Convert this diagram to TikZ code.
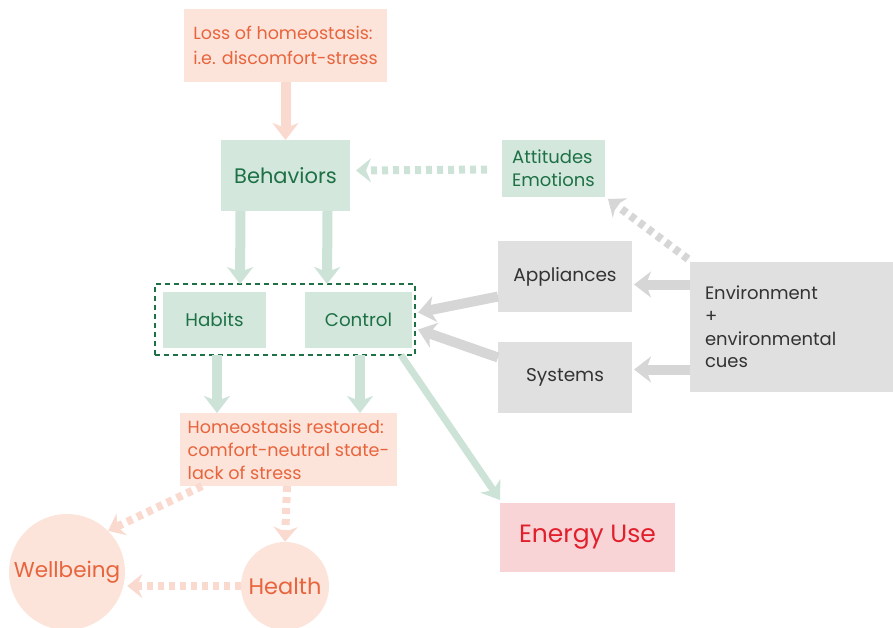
\documentclass[tikz,border=0pt]{standalone}
\usepackage{fontspec}
\setmainfont{Poppins}
\usetikzlibrary{arrows.meta,calc}
\definecolor{pinkfill}{HTML}{FCE4DB}
\definecolor{orangetext}{HTML}{E8643C}
\definecolor{greenfill}{HTML}{D4E7DD}
\definecolor{greentext}{HTML}{1D7145}
\definecolor{greenarrow}{HTML}{CDE3D8}
\definecolor{grayfill}{HTML}{E0E0E0}
\definecolor{grayarrow}{HTML}{D6D6D6}
\definecolor{graytext}{HTML}{333333}
\definecolor{energyfill}{HTML}{F8D4D7}
\definecolor{energytext}{HTML}{E2202C}
\definecolor{pinkarrow}{HTML}{FADACF}
\tikzset{
  box/.style={rectangle, inner sep=0pt, outer sep=0pt},
  pinkbox/.style={box, fill=pinkfill, text=orangetext},
  greenbox/.style={box, fill=greenfill, text=greentext},
  graybox/.style={box, fill=grayfill, text=graytext},
  bigarrow/.style={line width=10pt, -{Stealth[length=17pt,width=26pt,inset=5pt]}},
  dotarrow/.style={line width=8pt, dash pattern=on 6pt off 5pt, -{Stealth[length=15pt,width=24pt,inset=5pt]}},
}
\begin{document}
\begin{tikzpicture}[x=1pt,y=-1pt]
\useasboundingbox (0,0) rectangle (893,628);
% nodes
\node[pinkbox, minimum width=203pt, minimum height=73pt, align=left, font=\fontsize{17.5}{25}\selectfont] (loss) at (285.5,45.5) {Loss of homeostasis:\\i.e. discomfort-stress};
\node[greenbox, minimum width=129pt, minimum height=71pt, font=\fontsize{21}{25}\selectfont] (beh) at (285.5,175.5) {Behaviors};
\node[greenbox, minimum width=103pt, minimum height=57pt, align=left, font=\fontsize{18}{23}\selectfont] (att) at (553.5,168.5) {Attitudes\\Emotions};
\node[graybox, minimum width=134pt, minimum height=71pt, font=\fontsize{18.5}{22}\selectfont] (app) at (565,276.5) {Appliances};
\node[graybox, minimum width=134pt, minimum height=71pt, font=\fontsize{18.5}{22}\selectfont] (sys) at (565,377.5) {Systems};
\node[graybox, minimum width=203pt, minimum height=130pt, text width=173pt, align=left, font=\fontsize{18}{22.7}\selectfont] (env) at (791.5,327) {Environment\\+\\environmental\\cues};
\node[greenbox, minimum width=103pt, minimum height=56pt, font=\fontsize{18.3}{22}\selectfont] (hab) at (214.5,320) {Habits};
\node[greenbox, minimum width=107pt, minimum height=56pt, font=\fontsize{18.3}{22}\selectfont] (ctl) at (358.5,320) {Control};
\node[box, draw=greentext, dash pattern=on 5pt off 4pt, line width=1.5pt, minimum width=260pt, minimum height=71pt] (grp) at (285,319.5) {};
\node[pinkbox, minimum width=217pt, minimum height=73pt, align=left, font=\fontsize{17.6}{23}\selectfont] (home) at (288.5,449.5) {Homeostasis restored:\\comfort-neutral state-\\lack of stress};
\node[box, fill=energyfill, text=energytext, minimum width=175pt, minimum height=69pt, font=\fontsize{25}{29}\selectfont] (energy) at (587.5,537.5) {Energy Use};
\node[circle, fill=pinkfill, text=orangetext, minimum size=116pt, inner sep=0pt, font=\fontsize{21.5}{25}\selectfont] (well) at (67,572) {Wellbeing};
\node[circle, fill=pinkfill, text=orangetext, minimum size=88pt, inner sep=0pt, font=\fontsize{22.5}{26}\selectfont] (health) at (285,586) {Health};
% arrows
\draw[bigarrow, pinkarrow] (loss.south) -- (beh.north);
\draw[dotarrow, greenarrow] ($(att.west)+(-15,1)$) -- ($(beh.east)+(6,-5)$);
\draw[bigarrow, greenarrow] ($(beh.south)+(-45,0)$) -- ($(grp.north)+(-45,0)$);
\draw[bigarrow, greenarrow] ($(beh.south)+(42,0)$) -- ($(grp.north)+(42,0)$);
\draw[bigarrow, greenarrow] ($(grp.south)+(-68,0)$) -- ($(home.north)+(-71.5,0)$);
\draw[bigarrow, greenarrow] ($(grp.south)+(75,0)$) -- ($(home.north)+(71.5,0)$);
\draw[line width=7pt, greenarrow, -{Stealth[length=17pt,width=24pt,inset=5pt]}] ($(grp.south east)+(-14,0)$) -- ($(energy.north west)+(0,-3)$);
\draw[bigarrow, grayarrow] ($(app.west)+(0,20)$) -- ($(grp.east)+(3,-7)$);
\draw[bigarrow, grayarrow] ($(sys.west)+(0,-20)$) -- ($(grp.east)+(3,10)$);
\draw[bigarrow, grayarrow] ($(env.west |- app)+(0,8)$) -- ($(app.east)+(2,8)$);
\draw[bigarrow, grayarrow] ($(env.west |- sys)+(0,-8)$) -- ($(sys.east)+(2,-8)$);
\draw[dotarrow, grayarrow] ($(env.north west)+(-2,-3)$) -- ($(att.south east)+(3,2)$);
\draw[dotarrow, pinkarrow] ($(home.south west)+(22,0)$) -- (well.north east);
\draw[dotarrow, pinkarrow] ($(home.south west)+(107,0)$) -- (health.north);
\draw[dotarrow, pinkarrow] (health.west) -- ($(well.east)+(2,14)$);
\end{tikzpicture}
\end{document}
